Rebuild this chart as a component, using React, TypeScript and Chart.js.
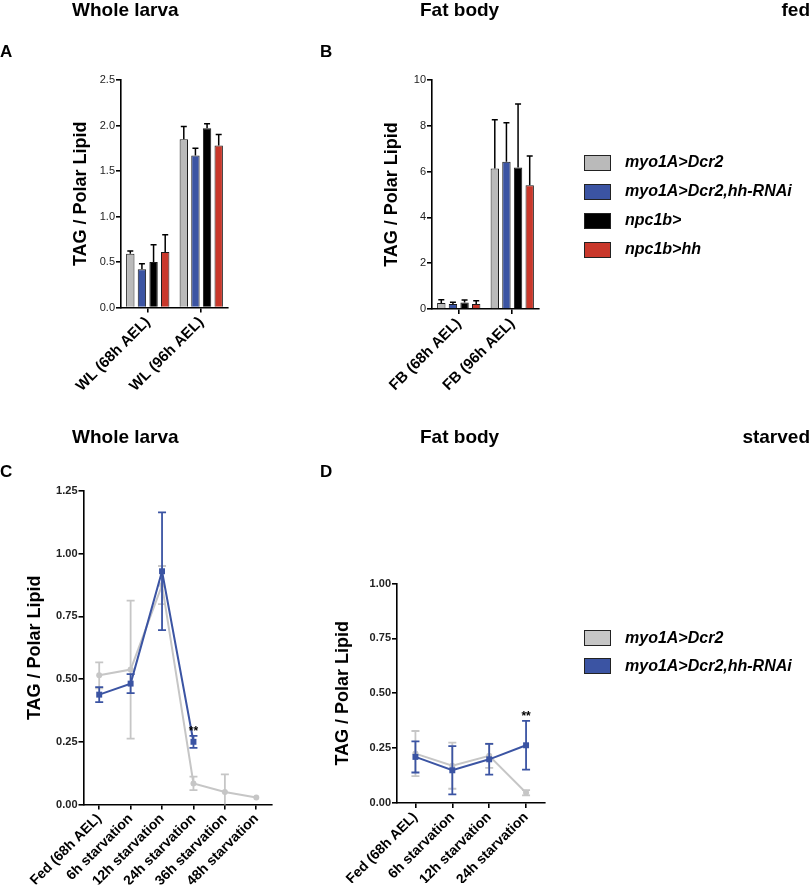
import React, { useEffect, useRef } from "react";
import { Chart, registerables } from "chart.js";

Chart.register(...registerables);

// ---------- data ----------
const FED_GENOTYPES = ["myo1A>Dcr2", "myo1A>Dcr2,hh-RNAi", "npc1b>", "npc1b>hh"];
const FED_COLORS = ["#bababa", "#3b54a3", "#000000", "#c9382b"];

const WL_GROUPS = ["WL (68h AEL)", "WL (96h AEL)"];
const WL_DCR2 = [0.59, 1.85];
const WL_DCR2_SEM = [0.03, 0.14];
const WL_HHRNAI = [0.42, 1.67];
const WL_HHRNAI_SEM = [0.06, 0.08];
const WL_NPC1B = [0.5, 1.97];
const WL_NPC1B_SEM = [0.19, 0.05];
const WL_NPC1B_HH = [0.61, 1.78];
const WL_NPC1B_HH_SEM = [0.19, 0.12];

const FB_GROUPS = ["FB (68h AEL)", "FB (96h AEL)"];
const FB_DCR2 = [0.26, 6.13];
const FB_DCR2_SEM = [0.14, 2.13];
const FB_HHRNAI = [0.22, 6.43];
const FB_HHRNAI_SEM = [0.07, 1.7];
const FB_NPC1B = [0.28, 6.18];
const FB_NPC1B_SEM = [0.11, 2.77];
const FB_NPC1B_HH = [0.22, 5.4];
const FB_NPC1B_HH_SEM = [0.14, 1.28];

const STARVED_GENOTYPES = ["myo1A>Dcr2", "myo1A>Dcr2,hh-RNAi"];
const STARVED_COLORS = ["#c6c6c6", "#3b54a3"];

const WL_TIMES = ["Fed (68h AEL)", "6h starvation", "12h starvation", "24h starvation", "36h starvation", "48h starvation"];
const WL_STARVED_DCR2 = [0.515, 0.538, 0.875, 0.084, 0.05, 0.028];
const WL_STARVED_DCR2_SEM = [0.052, 0.275, 0.076, 0.027, 0.07, 0.0];
const WL_STARVED_HHRNAI = [0.438, 0.482, 0.93, 0.25, null, null];
const WL_STARVED_HHRNAI_SEM = [0.03, 0.038, 0.235, 0.024, null, null];
const WL_STARVED_SIG = [null, null, null, "**", null, null];

const FB_TIMES = ["Fed (68h AEL)", "6h starvation", "12h starvation", "24h starvation"];
const FB_STARVED_DCR2 = [0.225, 0.17, 0.215, 0.047];
const FB_STARVED_DCR2_SEM = [0.103, 0.105, 0.055, 0.012];
const FB_STARVED_HHRNAI = [0.21, 0.149, 0.199, 0.263];
const FB_STARVED_HHRNAI_SEM = [0.071, 0.11, 0.07, 0.111];
const FB_STARVED_SIG = [null, null, null, "**"];

const Y_TITLE = "TAG / Polar Lipid";

// ---------- plugins ----------
const FONT = "'Liberation Sans', Arial, Helvetica, sans-serif";

const errorBarPlugin = {
  id: "errorBars",
  beforeDatasetDraw(chart: any, args: any) {
    const ds = chart.data.datasets[args.index];
    const errs = ds.errors;
    if (!errs) return;
    const meta = args.meta;
    const yScale = chart.scales[meta.yAxisID];
    const ctx = chart.ctx;
    ctx.save();
    ctx.strokeStyle = ds.errorColor || "#000";
    ctx.lineWidth = ds.errorWidth || 1.5;
    meta.data.forEach((el: any, i: number) => {
      const v = ds.data[i];
      const e = errs[i];
      if (v == null || e == null || !e) return;
      const x = el.x;
      const top = yScale.getPixelForValue(v + e);
      const lowVal = Math.max(v - e, yScale.min);
      const bottom = ds.errorBoth ? yScale.getPixelForValue(lowVal) : el.y;
      const half = ds.capHalf || 3;
      ctx.beginPath();
      ctx.moveTo(x, bottom);
      ctx.lineTo(x, top);
      ctx.moveTo(x - half, top);
      ctx.lineTo(x + half, top);
      if (ds.errorBoth && v - e > yScale.min) {
        ctx.moveTo(x - half, bottom);
        ctx.lineTo(x + half, bottom);
      }
      ctx.stroke();
    });
    ctx.restore();
  },
  afterDatasetsDraw(chart: any) {
    const ctx = chart.ctx;
    chart.data.datasets.forEach((ds: any, di: number) => {
      if (!ds.marks) return;
      const meta = chart.getDatasetMeta(di);
      const yScale = chart.scales[meta.yAxisID];
      ds.marks.forEach((m: string | null, i: number) => {
        if (!m || ds.data[i] == null) return;
        const el = meta.data[i];
        const top = yScale.getPixelForValue(ds.data[i] + (ds.errors ? ds.errors[i] || 0 : 0));
        ctx.save();
        ctx.fillStyle = "#000";
        ctx.font = `bold 12px ${FONT}`;
        ctx.textAlign = "center";
        ctx.textBaseline = "bottom";
        ctx.fillText(m, el.x, top + 2);
        ctx.restore();
      });
    });
  },
};

// ---------- chart options ----------
type Frame = {
  left: number; // y scale left edge (page px)
  plotLeft: number;
  plotRight: number;
  plotTop: number;
  plotBottom: number;
  xHeight: number;
};

function axisOptions(f: Frame, y: { max: number; step: number; dec: number; bold: boolean }, xFont: number, offsetX: boolean) {
  const yWidth = f.plotLeft - f.left;
  return {
    responsive: false,
    animation: false as const,
    events: [],
    layout: {
      padding: {
        left: f.left,
        right: 810 - f.plotRight,
        top: f.plotTop,
        bottom: 889 - f.plotBottom - f.xHeight,
      },
    },
    plugins: { legend: { display: false }, tooltip: { enabled: false }, title: { display: false } },
    scales: {
      x: {
        type: "category" as const,
        offset: offsetX,
        afterFit: (s: any) => {
          s.height = f.xHeight;
        },
        border: { display: true, color: "#000", width: 1.6 },
        grid: { display: true, drawOnChartArea: false, drawTicks: true, tickLength: 5, offset: false, color: "#000", lineWidth: 1.6 },
        ticks: {
          autoSkip: false,
          minRotation: 45,
          maxRotation: 45,
          padding: 1,
          color: "#000",
          font: { family: FONT, size: xFont, weight: "bold" as const },
        },
      },
      y: {
        type: "linear" as const,
        min: 0,
        max: y.max,
        afterFit: (s: any) => {
          s.width = yWidth;
        },
        border: { display: true, color: "#000", width: 1.6 },
        grid: { display: true, drawOnChartArea: false, drawTicks: true, tickLength: 5, color: "#000", lineWidth: 1.6 },
        ticks: {
          stepSize: y.step,
          padding: 1,
          color: "#222",
          font: { family: FONT, size: 11, weight: (y.bold ? "bold" : "normal") as any },
          callback: (v: any) => Number(v).toFixed(y.dec),
        },
        title: {
          display: true,
          text: Y_TITLE,
          color: "#000",
          padding: { top: 4, bottom: 4 },
          font: { family: FONT, size: 18, weight: "bold" as const },
        },
      },
    },
  };
}

function barDataset(label: string, data: number[], errors: number[], color: string) {
  return {
    label,
    data,
    errors,
    backgroundColor: color,
    borderColor: "#1a1a1a",
    borderWidth: 1,
    barPercentage: 0.72,
    categoryPercentage: 0.87,
    errorColor: "#000",
    errorWidth: 1.5,
    capHalf: 3,
  };
}

function lineDataset(label: string, data: (number | null)[], errors: (number | null)[], color: string, style: string, order: number, marks?: (string | null)[]) {
  return {
    label,
    data,
    errors,
    marks,
    order,
    borderColor: color,
    backgroundColor: color,
    borderWidth: 2,
    pointStyle: style,
    pointRadius: style === "rect" ? 4.2 : 3,
    pointBorderWidth: 0,
    pointBackgroundColor: color,
    errorBoth: true,
    errorColor: color,
    errorWidth: 1.8,
    capHalf: 4,
    spanGaps: false,
    clip: false,
  };
}

const configA = () => ({
  type: "bar",
  data: {
    labels: WL_GROUPS,
    datasets: [
      barDataset(FED_GENOTYPES[0], WL_DCR2, WL_DCR2_SEM, FED_COLORS[0]),
      barDataset(FED_GENOTYPES[1], WL_HHRNAI, WL_HHRNAI_SEM, FED_COLORS[1]),
      barDataset(FED_GENOTYPES[2], WL_NPC1B, WL_NPC1B_SEM, FED_COLORS[2]),
      barDataset(FED_GENOTYPES[3], WL_NPC1B_HH, WL_NPC1B_HH_SEM, FED_COLORS[3]),
    ],
  },
  options: axisOptions({ left: 66, plotLeft: 121, plotRight: 228, plotTop: 80, plotBottom: 307.5, xHeight: 110 }, { max: 2.5, step: 0.5, dec: 1, bold: false }, 15, true),
  plugins: [errorBarPlugin],
});

const configB = () => ({
  type: "bar",
  data: {
    labels: FB_GROUPS,
    datasets: [
      barDataset(FED_GENOTYPES[0], FB_DCR2, FB_DCR2_SEM, FED_COLORS[0]),
      barDataset(FED_GENOTYPES[1], FB_HHRNAI, FB_HHRNAI_SEM, FED_COLORS[1]),
      barDataset(FED_GENOTYPES[2], FB_NPC1B, FB_NPC1B_SEM, FED_COLORS[2]),
      barDataset(FED_GENOTYPES[3], FB_NPC1B_HH, FB_NPC1B_HH_SEM, FED_COLORS[3]),
    ],
  },
  options: axisOptions({ left: 377, plotLeft: 432, plotRight: 539, plotTop: 80, plotBottom: 309, xHeight: 110 }, { max: 10, step: 2, dec: 0, bold: false }, 15, true),
  plugins: [errorBarPlugin],
});

const configC = () => ({
  type: "line",
  data: {
    labels: WL_TIMES,
    datasets: [
      lineDataset(STARVED_GENOTYPES[0], WL_STARVED_DCR2, WL_STARVED_DCR2_SEM, STARVED_COLORS[0], "circle", 2),
      lineDataset(STARVED_GENOTYPES[1], WL_STARVED_HHRNAI, WL_STARVED_HHRNAI_SEM, STARVED_COLORS[1], "rect", 1, WL_STARVED_SIG),
    ],
  },
  options: axisOptions({ left: 20, plotLeft: 83.5, plotRight: 272, plotTop: 491, plotBottom: 804.5, xHeight: 80 }, { max: 1.25, step: 0.25, dec: 2, bold: true }, 14, true),
  plugins: [errorBarPlugin],
});

const configD = () => ({
  type: "line",
  data: {
    labels: FB_TIMES,
    datasets: [
      lineDataset(STARVED_GENOTYPES[0], FB_STARVED_DCR2, FB_STARVED_DCR2_SEM, STARVED_COLORS[0], "circle", 2),
      lineDataset(STARVED_GENOTYPES[1], FB_STARVED_HHRNAI, FB_STARVED_HHRNAI_SEM, STARVED_COLORS[1], "rect", 1, FB_STARVED_SIG),
    ],
  },
  options: axisOptions({ left: 328, plotLeft: 397, plotRight: 544.5, plotTop: 583.5, plotBottom: 803, xHeight: 80 }, { max: 1.0, step: 0.25, dec: 2, bold: true }, 14, true),
  plugins: [errorBarPlugin],
});

// ---------- components ----------
function ChartLayer({ make }: { make: () => any }) {
  const ref = useRef<HTMLCanvasElement | null>(null);
  useEffect(() => {
    if (!ref.current) return;
    const chart = new Chart(ref.current, make());
    return () => chart.destroy();
  }, [make]);
  return <canvas ref={ref} width={810} height={889} style={{ position: "absolute", left: 0, top: 0, width: 810, height: 889 }} />;
}

function Text({ x, y, size, children, italic, right }: { x: number; y: number; size: number; children: React.ReactNode; italic?: boolean; right?: boolean }) {
  // y = baseline
  const style: React.CSSProperties = {
    position: "absolute",
    top: y - size * 0.905 - (size - size * 1.117) / 2 - 0.5,
    fontFamily: FONT,
    fontWeight: "bold",
    fontStyle: italic ? "italic" : "normal",
    fontSize: size,
    lineHeight: `${size}px`,
    whiteSpace: "nowrap",
    color: "#000",
  };
  if (right) style.right = 810 - x;
  else style.left = x;
  return <div style={style}>{children}</div>;
}

function Legend({ x, y0, gap, labels, colors }: { x: number; y0: number; gap: number; labels: string[]; colors: string[] }) {
  return (
    <>
      {labels.map((l, i) => (
        <React.Fragment key={l}>
          <div
            style={{
              position: "absolute",
              left: x,
              top: y0 + i * gap - 8,
              width: 25,
              height: 14,
              background: colors[i],
              border: "1.5px solid #222",
            }}
          />
          <Text x={x + 41} y={y0 + i * gap + 6} size={16} italic>
            {l}
          </Text>
        </React.Fragment>
      ))}
    </>
  );
}

export default function App() {
  return (
    <div style={{ position: "absolute", left: 0, top: 0, width: 810, height: 889, background: "#fff", overflow: "hidden" }}>
      <ChartLayer make={configA} />
      <ChartLayer make={configB} />
      <ChartLayer make={configC} />
      <ChartLayer make={configD} />

      <Text x={72} y={17} size={19}>Whole larva</Text>
      <Text x={420} y={17} size={19}>Fat body</Text>
      <Text x={810} y={17} size={19} right>fed</Text>
      <Text x={0} y={58} size={17}>A</Text>
      <Text x={320} y={58} size={17}>B</Text>

      <Text x={72} y={444} size={19}>Whole larva</Text>
      <Text x={420} y={444} size={19}>Fat body</Text>
      <Text x={810} y={444} size={19} right>starved</Text>
      <Text x={0} y={478} size={17}>C</Text>
      <Text x={320} y={478} size={17}>D</Text>

      <Legend x={584} y0={162.5} gap={29} labels={FED_GENOTYPES} colors={FED_COLORS} />
      <Legend x={584} y0={638} gap={28} labels={STARVED_GENOTYPES} colors={STARVED_COLORS} />
    </div>
  );
}
